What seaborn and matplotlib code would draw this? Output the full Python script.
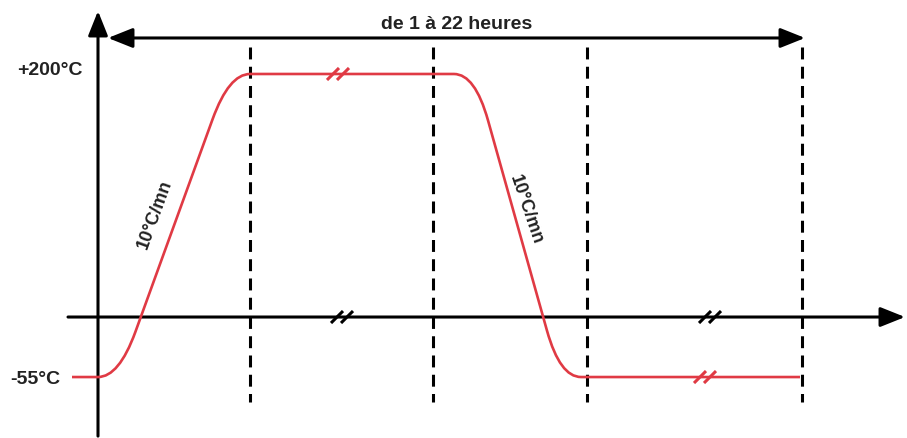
import numpy as np
import pandas as pd

import matplotlib
matplotlib.use("Agg")
import matplotlib.pyplot as plt
from matplotlib.path import Path
from matplotlib.patches import PathPatch
import seaborn as sns

# -----------------------
# Data (time in arbitrary minutes, temperature in °C)
# -----------------------
PROFILE_T = [-6.5, 5.25, 32.75, 94.25, 115.5, 175.5]
PROFILE_TEMP = [-55, -55, 200, 200, -55, -55]

PHASE_BOUNDS = [38.0, 83.75, 122.25, 176.0]      # dashed vertical lines
SPAN_START, SPAN_END = 2.5, 176.75                # "de 1 à 22 heures" arrow
SPAN_LABEL = "de 1 à 22 heures"
LEVEL_LABELS = ["+200°C", "-55°C"]
LEVEL_VALUES = [200, -55]
RAMP_LABEL = "10°C/mn"

# break marks: (time, temp, on curve?)
BREAKS_T = [60.0, 151.75, 61.0, 153.0]
BREAKS_Y = [200, -55, -4.5, -4.5]
BREAKS_RED = [True, True, False, False]

# -----------------------
# Style
# -----------------------
RED = "#e03a44"
AXIS_Y = -4.5
ROUND_FLAT, ROUND_RAMP = 21, 48   # corner rounding in px

sns.set_theme(style="white")
plt.rcParams["font.family"] = ["Liberation Sans", "DejaVu Sans"]

fig = plt.figure(figsize=(9.07, 4.39), dpi=100)
ax = fig.add_axes([0, 0, 1, 1])
ax.set_xlim(-24.5, 202.25)
ax.set_ylim(-106.3, 263.1)
ax.axis("off")

# ---- axes arrows
arrow_kw = dict(arrowstyle="-|>,head_length=0.75,head_width=0.3", mutation_scale=20,
                lw=2.2, color="black", shrinkA=0, shrinkB=0)
ax.annotate("", xy=(201.75, AXIS_Y), xytext=(-7.5, AXIS_Y), arrowprops=arrow_kw)
ax.annotate("", xy=(0, 253.0), xytext=(0, -104.7), arrowprops=arrow_kw)
ax.annotate("", xy=(SPAN_START, 230.3), xytext=(SPAN_END, 230.3),
            arrowprops=dict(arrow_kw, arrowstyle="<|-|>,head_length=0.75,head_width=0.3"))
ax.text((SPAN_START + SPAN_END) / 2, 242.5, SPAN_LABEL, ha="center", va="center",
        fontsize=14, fontweight="bold", color="#222222")

# ---- dashed phase boundaries
bounds = pd.DataFrame({
    "t": np.repeat(PHASE_BOUNDS, 2),
    "y": [222.7, -76.0] * len(PHASE_BOUNDS),
    "id": np.repeat(np.arange(len(PHASE_BOUNDS)), 2),
})
sns.lineplot(data=bounds, x="t", y="y", units="id", estimator=None, sort=False,
             color="black", lw=2.2, linestyle=(0, (3.9, 2.4)), ax=ax, legend=False)
ax.set_xlim(-24.5, 202.25)
ax.set_ylim(-106.3, 263.1)
ax.axis("off")

# ---- temperature profile with rounded corners
pts = ax.transData.transform(np.column_stack([PROFILE_T, PROFILE_TEMP]))
verts, codes = [pts[0]], [Path.MOVETO]
for i in range(1, len(pts) - 1):
    p, a, b = pts[i], pts[i - 1], pts[i + 1]
    r_in = ROUND_FLAT if abs(a[1] - p[1]) < 1e-6 else ROUND_RAMP
    r_out = ROUND_FLAT if abs(b[1] - p[1]) < 1e-6 else ROUND_RAMP
    pa = p + (a - p) / np.linalg.norm(a - p) * r_in
    pb = p + (b - p) / np.linalg.norm(b - p) * r_out
    verts += [pa, p, pb]
    codes += [Path.LINETO, Path.CURVE3, Path.CURVE3]
verts.append(pts[-1])
codes.append(Path.LINETO)
path = Path(ax.transData.inverted().transform(np.array(verts)), codes)
ax.add_patch(PathPatch(path, fill=False, edgecolor=RED, lw=1.9, capstyle="butt", zorder=3))

# ---- break marks "//"
for t, y, red in zip(BREAKS_T, BREAKS_Y, BREAKS_RED):
    cx, cy = ax.transData.transform((t, y))
    for off in (-5, 5):
        ax.plot([cx + off - 6, cx + off + 6], [cy - 6, cy + 6], transform=None,
                color=RED if red else "black", lw=2.2, solid_capstyle="butt", zorder=4)

# ---- labels
ax.text(-3.75, 204, LEVEL_LABELS[0], ha="right", va="center", fontsize=14,
        fontweight="bold", color="#222222")
ax.text(-9.5, -56.5, LEVEL_LABELS[1], ha="right", va="center", fontsize=14,
        fontweight="bold", color="#222222")
ax.text(14.25, 83, RAMP_LABEL, ha="center", va="center", rotation=70,
        rotation_mode="anchor", fontsize=13, fontweight="bold", color="#222222")
ax.text(107, 87, RAMP_LABEL, ha="center", va="center", rotation=-71,
        rotation_mode="anchor", fontsize=13, fontweight="bold", color="#222222")

fig.savefig("out.png", dpi=100)
plt.close(fig)
